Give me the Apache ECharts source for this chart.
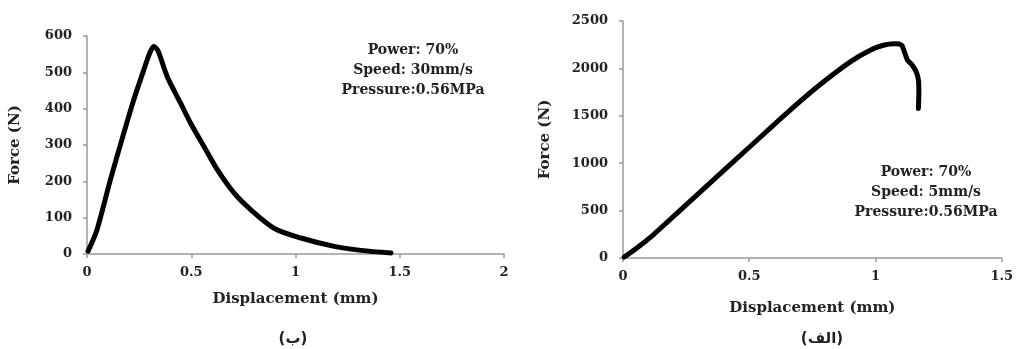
<!DOCTYPE html>
<html><head><meta charset="utf-8">
<script src="https://cdn.jsdelivr.net/npm/echarts@6/dist/echarts.min.js"></script>
<style>html,body{margin:0;padding:0;background:#fff}#c{width:1016px;height:349px}</style>
</head><body><div id="c"></div>
<script>
// Left chart (ب): Speed 30mm/s
const leftX = [0.005, 0.048, 0.112, 0.176, 0.224, 0.272, 0.300, 0.320, 0.340, 0.385, 0.449, 0.497, 0.561, 0.625, 0.705, 0.785, 0.897, 1.026, 1.186, 1.314, 1.458];
const leftY = [8, 67, 204, 332, 424, 506, 552, 571, 560, 488, 415, 360, 296, 232, 168, 122, 71, 44, 21, 10, 3];
// Right chart (الف): Speed 5mm/s
const rightX = [0.005, 0.055, 0.12, 0.185, 0.25, 0.38, 0.51, 0.64, 0.77, 0.90, 0.979, 1.031, 1.075, 1.094, 1.105, 1.114, 1.127, 1.146, 1.162, 1.170, 1.172, 1.170];
const rightY = [10, 105, 245, 403, 561, 877, 1192, 1508, 1806, 2069, 2192, 2244, 2260, 2258, 2240, 2180, 2087, 2034, 1960, 1880, 1760, 1578];
const leftXTicks = {min: 0, max: 2, interval: 0.5};
const leftYTicks = {min: 0, max: 600, interval: 100};
const rightXTicks = {min: 0, max: 1.5, interval: 0.5};
const rightYTicks = {min: 0, max: 2500, interval: 500};
const xName = 'Displacement (mm)';
const yName = 'Force (N)';
const leftNote = ['Power: 70%', 'Speed: 30mm/s', 'Pressure:0.56MPa'];
const rightNote = ['Power: 70%', 'Speed: 5mm/s', 'Pressure:0.56MPa'];
const leftCaption = '(ب)';
const rightCaption = '(الف)';

const FONT = 'DejaVu Serif';
const axisLine = {lineStyle: {color: '#9a9a9a', width: 1.5}};
const tickLbl = {color: '#222', fontFamily: FONT, fontWeight: 'bold', fontSize: 13, formatter: v => String(v)};
function xAxis(idx, t, gap) {
  return {type: 'value', gridIndex: idx, min: t.min, max: t.max, interval: t.interval,
    name: xName, nameLocation: 'middle', nameGap: gap,
    nameTextStyle: {color: '#222', fontFamily: FONT, fontWeight: 'bold', fontSize: 15},
    axisLine: axisLine, axisTick: {show: true, length: 4, lineStyle: {color: '#9a9a9a', width: 1.5}},
    splitLine: {show: false}, axisLabel: Object.assign({}, tickLbl, {margin: 12})};
}
function yAxis(idx, t, gap) {
  return {type: 'value', gridIndex: idx, min: t.min, max: t.max, interval: t.interval,
    name: yName, nameLocation: 'middle', nameGap: gap, nameRotate: 90,
    nameTextStyle: {color: '#222', fontFamily: FONT, fontWeight: 'bold', fontSize: 15},
    axisLine: Object.assign({show: true}, axisLine), axisTick: {show: true, length: 4, lineStyle: {color: '#9a9a9a', width: 1.5}},
    splitLine: {show: false}, axisLabel: Object.assign({}, tickLbl, {margin: 15})};
}
function note(lines, cx, y0) {
  return lines.map((s, i) => ({type: 'text', x: cx, y: y0 + i * 20,
    style: {text: s, fill: '#222', font: 'bold 14px "' + FONT + '"', textAlign: 'center', textVerticalAlign: 'middle'}}));
}
function caption(s, cx, y) {
  return {type: 'text', x: cx, y: y, style: {text: s, fill: '#222', font: 'bold 15px "DejaVu Sans"', textAlign: 'center', textVerticalAlign: 'middle'}};
}
const chart = echarts.init(document.getElementById('c'), null, {renderer: 'canvas'});
chart.setOption({
  animation: false,
  backgroundColor: '#fff',
  grid: [
    {left: 87, top: 36, width: 417, height: 218},
    {left: 623, top: 21, width: 382, height: 237}
  ],
  xAxis: [xAxis(0, leftXTicks, 38), xAxis(1, rightXTicks, 43)],
  yAxis: [yAxis(0, leftYTicks, 64), yAxis(1, rightYTicks, 70)],
  series: [
    {type: 'line', xAxisIndex: 0, yAxisIndex: 0, data: leftX.map((x, i) => [x, leftY[i]]),
      smooth: 0.3, showSymbol: false, lineStyle: {color: '#000', width: 5, cap: 'round', join: 'round'}},
    {type: 'line', xAxisIndex: 1, yAxisIndex: 1, data: rightX.map((x, i) => [x, rightY[i]]),
      smooth: 0.3, showSymbol: false, lineStyle: {color: '#000', width: 5, cap: 'round', join: 'round'}}
  ],
  graphic: [].concat(note(leftNote, 413, 50), note(rightNote, 926, 172),
    [caption(leftCaption, 293, 339), caption(rightCaption, 822, 339)])
});
</script></body></html>
